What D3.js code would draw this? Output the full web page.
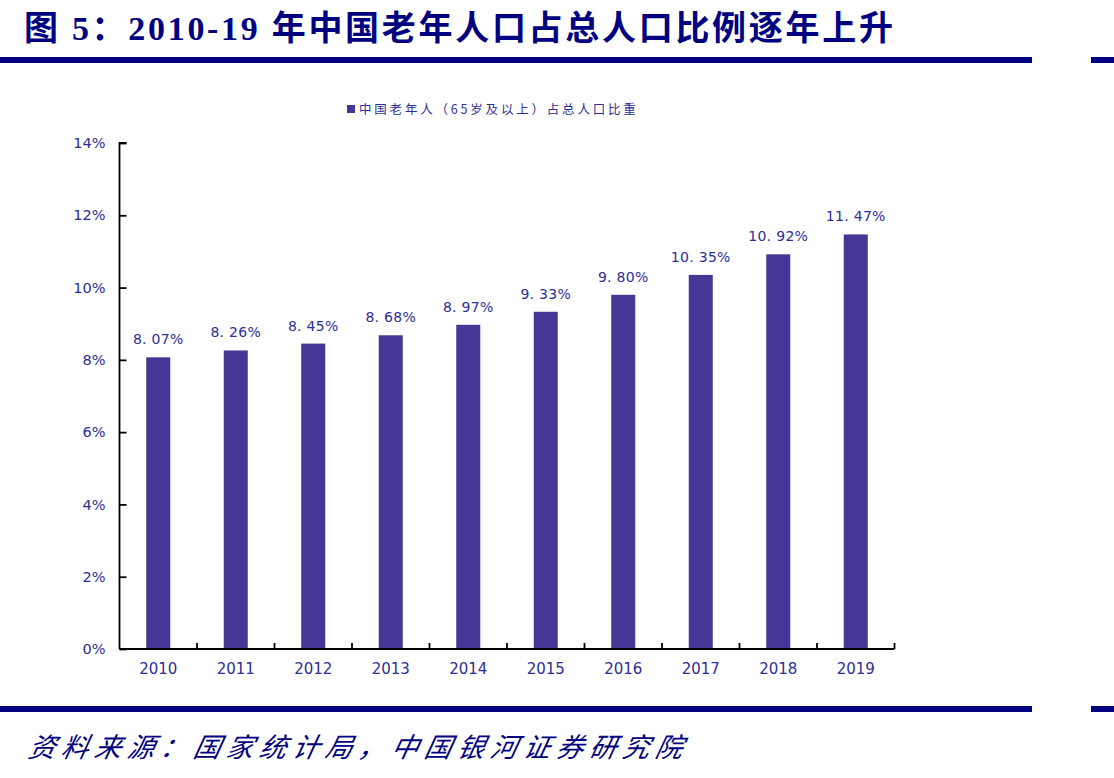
<!DOCTYPE html>
<html><head><meta charset="utf-8">
<script src="https://cdn.jsdelivr.net/npm/d3@7"></script>
<style>
html,body{margin:0;padding:0;background:#fff;}
svg{display:block;}
</style></head>
<body>
<svg id="c" width="1114" height="778"></svg>
<script>
const years = ["2010","2011","2012","2013","2014","2015","2016","2017","2018","2019"];
const shares = [8.07, 8.26, 8.45, 8.68, 8.97, 9.33, 9.80, 10.35, 10.92, 11.47];
const yTicks = [0, 2, 4, 6, 8, 10, 12, 14];
const titleText = "图 5：2010-19 年中国老年人口占总人口比例逐年上升";
const legendText = "中国老年人（65岁及以上）占总人口比重";
const sourceText = "资料来源：国家统计局，中国银河证券研究院";

const svg = d3.select("#c");
const navy = "#000080";
const barColor = "#443795";
const textBlue = "#2e2e96";

// Title
svg.append("text").attr("x", 24).attr("y", 40)
  .attr("font-family", "'Liberation Serif','Noto Sans CJK SC',serif")
  .attr("font-weight", "bold").attr("font-size", 34)
  .attr("letter-spacing", 2.7)
  .attr("fill", navy).text(titleText);

// Rules
[[57],[706]].forEach(([y]) => {
  svg.append("rect").attr("x", 0).attr("y", y).attr("width", 1032).attr("height", 6).attr("fill", navy);
  svg.append("rect").attr("x", 1091).attr("y", y).attr("width", 23).attr("height", 6).attr("fill", navy);
});

// Source
svg.append("text").attr("x", 28).attr("y", 757)
  .attr("font-family", "'Noto Sans CJK SC',sans-serif")
  .attr("font-style", "italic").attr("font-size", 27)
  .attr("letter-spacing", 6)
  .attr("transform", "skewX(-12) translate(160,0)")
  .attr("fill", navy).text(sourceText);

const margin = {left: 119.5, right: 894.5, top: 143, bottom: 649};
const x = d3.scaleBand().domain(years).range([margin.left, margin.right]).paddingInner(0.69).paddingOuter(0.345);
const y = d3.scaleLinear().domain([0, 14]).range([margin.bottom, margin.top]);

// Bars
svg.append("g").selectAll("rect").data(shares).join("rect")
  .attr("x", (d,i) => x(years[i])).attr("width", x.bandwidth())
  .attr("y", d => y(d)).attr("height", d => y(0) - y(d))
  .attr("fill", barColor);

// Data labels
svg.append("g").selectAll("text").data(shares).join("text")
  .attr("x", (d,i) => x(years[i]) + x.bandwidth()/2)
  .attr("y", d => y(d) - 13)
  .attr("text-anchor", "middle")
  .attr("font-family", "'DejaVu Sans',sans-serif").attr("font-size", 14)
  .attr("letter-spacing", 0.3)
  .attr("fill", textBlue)
  .text(d => d.toFixed(2).replace(".", ". ") + "%");

// Y axis
const yAxis = d3.axisLeft(y).tickValues(yTicks).tickFormat(d => d + "%").tickSize(-7).tickPadding(14);
const gy = svg.append("g").attr("transform", `translate(${margin.left},0)`).call(yAxis);
gy.select(".domain").attr("stroke", "#000").attr("stroke-width", 1.8).attr("d", `M7,${margin.top}H0V${margin.bottom}`);
gy.selectAll(".tick line").attr("stroke", "#000").attr("stroke-width", 1.8);
gy.selectAll(".tick text").attr("font-family", "'DejaVu Sans',sans-serif").attr("font-size", 14.5)
  .attr("fill", textBlue);

// X axis
const xAxis = d3.axisBottom(x).tickSize(0).tickPadding(14);
const gx = svg.append("g").attr("transform", `translate(0,${margin.bottom})`).call(xAxis);
gx.select(".domain").attr("stroke", "#000").attr("stroke-width", 1.8).attr("d", `M${margin.left},0H${margin.right}`);
gx.selectAll(".tick text").attr("font-family", "'DejaVu Sans',sans-serif").attr("font-size", 15)
  .attr("fill", textBlue);
// category boundary ticks (pointing up)
const step = x.step();
const bounds = d3.range(1, years.length + 1).map(i => margin.left + i * step);
gx.append("g").selectAll("line").data(bounds).join("line")
  .attr("x1", d => d).attr("x2", d => d).attr("y1", 0).attr("y2", -6)
  .attr("stroke", "#000").attr("stroke-width", 1.8);

// Legend
const lg = svg.append("g").attr("transform", "translate(347,110)");
lg.append("rect").attr("x", 0).attr("y", -5).attr("width", 8).attr("height", 8).attr("fill", barColor);
lg.append("text").attr("x", 12).attr("y", 4)
  .attr("font-family", "'Noto Sans CJK SC',sans-serif").attr("font-size", 12.5)
  .attr("letter-spacing", 2.8)
  .attr("fill", textBlue).text(legendText);
</script>
</body></html>
